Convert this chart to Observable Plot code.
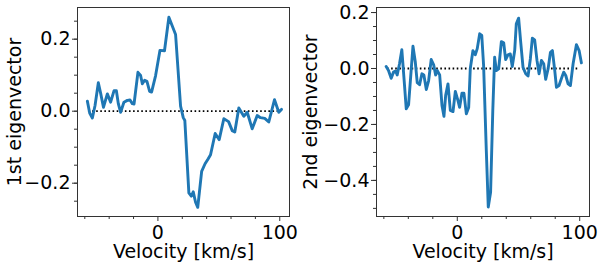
<!DOCTYPE html>
<html><head><meta charset="utf-8">
<script src="https://cdn.jsdelivr.net/npm/d3@7"></script>
<script src="https://cdn.jsdelivr.net/npm/@observablehq/plot@0.6"></script>
<style>
body{margin:0;background:#fff}
#c{display:flex;width:598px;height:265px}
</style>
</head><body><div id="c"></div>
<script>
// Panel 1: 1st eigenvector
const vel1 = [-57.9,-56.0,-53.8,-51.6,-48.9,-46.9,-44.7,-41.5,-38.8,-36.0,-34.1,-32.5,-30.6,-27.9,-25.1,-22.9,-21.0,-19.6,-16.4,-14.2,-12.8,-10.9,-9.0,-6.8,-5.2,-1.9,1.7,5.4,9.0,14.5,18.6,20.8,22.1,25.4,27.4,29.0,30.9,32.7,35.9,38.7,41.3,43.2,47.0,50.3,54.1,58.0,61.0,63.1,66.4,70.5,73.3,77.4,81.5,84.2,87.7,91.0,95.7,99.2,101.4];
const eig1 = [0.028,-0.005,-0.019,0.016,0.079,0.048,0.011,0.048,0.025,0.057,0.057,0.021,-0.003,0.025,0.030,0.031,0.021,0.020,0.108,0.099,0.076,0.086,0.083,0.055,0.053,0.099,0.169,0.168,0.261,0.213,0.014,-0.018,-0.026,-0.227,-0.236,-0.224,-0.253,-0.267,-0.167,-0.146,-0.132,-0.121,-0.062,-0.079,-0.021,-0.029,-0.054,-0.058,0.009,-0.014,-0.003,-0.049,-0.012,-0.018,-0.020,-0.030,0.032,-0.003,0.005];

// Panel 2: 2nd eigenvector
const vel2 = [-58.1,-56.2,-54.0,-52.1,-50.4,-49.1,-47.2,-45.3,-43.4,-41.7,-39.8,-38.1,-36.2,-34.3,-32.7,-30.8,-28.9,-27.3,-25.3,-23.4,-21.3,-19.3,-17.7,-16.4,-14.4,-12.5,-10.9,-9.5,-7.6,-5.7,-3.5,-1.6,0.5,1.9,3.8,5.4,7.4,9.3,10.6,12.8,14.7,16.3,18.3,20.0,21.5,23.7,25.3,27.2,29.0,30.5,31.9,33.8,36.0,37.9,39.5,41.4,43.3,44.9,46.9,48.2,50.1,51.8,53.7,55.9,57.8,59.7,61.3,63.2,65.1,66.8,68.7,70.6,72.2,74.2,76.1,77.7,79.6,81.0,83.1,85.0,86.9,88.6,90.5,92.4,94.6,97.3,99.5,101.4];
const eig2 = [0.007,-0.007,-0.035,-0.013,-0.009,-0.023,0.017,0.067,-0.043,-0.144,-0.130,-0.031,0.080,0.023,-0.051,-0.058,-0.019,-0.023,-0.075,-0.043,0.032,0.013,-0.023,-0.007,-0.023,-0.132,-0.171,-0.096,-0.055,-0.150,-0.154,-0.082,-0.114,-0.139,-0.088,-0.088,-0.162,-0.139,-0.001,0.064,0.049,0.071,0.124,0.118,0.010,-0.293,-0.495,-0.442,-0.150,0.040,-0.007,-0.001,0.096,0.092,0.032,0.049,0.052,0.007,0.064,0.160,0.180,0.094,0.004,-0.019,-0.027,0.035,0.108,0.102,0.029,-0.019,0.029,0.017,-0.039,-0.001,0.058,0.064,-0.007,-0.067,-0.061,-0.037,-0.013,-0.025,-0.055,-0.061,0.017,0.085,0.064,0.020];

const xMajor = [0, 100];
const xMinor = [-60, -40, -20, 20, 40, 60, 80];
const yMajor1 = [-0.2, 0.0, 0.2];
const yMajor2 = [-0.4, -0.2, 0.0, 0.2];
const yLabel1 = "1st eigenvector";
const yLabel2 = "2nd eigenvector";
const xLabel = "Velocity [km/s]";

function minorTicks(lo, hi) {
  const out = [];
  for (let i = Math.ceil(lo / 0.05); i <= Math.floor(hi / 0.05); i++) out.push(+(i * 0.05).toFixed(2));
  return out;
}

function panel(vel, eig, yDomain, yMajor, ylabel, mr, labelDx) {
  const data = vel.map((v, i) => ({v, e: eig[i]}));
  const fmt = d3.format(".1f");
  const fs = 19;
  return Plot.plot({
    width: 299, height: 265,
    marginLeft: 77, marginRight: mr, marginTop: 7, marginBottom: 49,
    style: {fontFamily: "DejaVu Sans", fontSize: fs + "px", background: "white", color: "black"},
    x: {domain: [-66, 108], label: null},
    y: {domain: yDomain, label: null},
    marks: [
      Plot.ruleY([0], {x1: -57, x2: 99, stroke: "black", strokeWidth: 1.8, strokeDasharray: "1.6,2.5"}),
      Plot.line(data, {x: "v", y: "e", stroke: "#1f77b4", strokeWidth: 2.9, strokeLinejoin: "round"}),
      Plot.frame({stroke: "#333", strokeWidth: 1}),
      Plot.axisX(xMinor, {tickSize: 3, tickFormat: () => "", label: null, stroke: "#333"}),
      Plot.axisX(xMajor, {tickSize: 5, tickPadding: 4, tickFormat: d => String(d), label: null, fontSize: fs, stroke: "#333"}),
      Plot.axisY(minorTicks(yDomain[0], yDomain[1]), {tickSize: 3, tickFormat: () => "", label: null, stroke: "#333"}),
      Plot.axisY(yMajor, {tickSize: 5, tickPadding: 2, tickFormat: fmt, label: null, fontSize: fs, stroke: "#333"}),
      Plot.text([ylabel], {frameAnchor: "left", rotate: -90, dx: labelDx, fontSize: fs, textAnchor: "middle", lineAnchor: "middle"}),
      Plot.text([xLabel], {frameAnchor: "bottom", dy: 35, fontSize: fs, textAnchor: "middle", lineAnchor: "middle"})
    ]
  });
}

const c = document.getElementById("c");
c.append(panel(vel1, eig1, [-0.2925, 0.288], yMajor1, yLabel1, 10, -62.5));
c.append(panel(vel2, eig2, [-0.529, 0.218], yMajor2, yLabel2, 9, -66));
</script></body></html>
